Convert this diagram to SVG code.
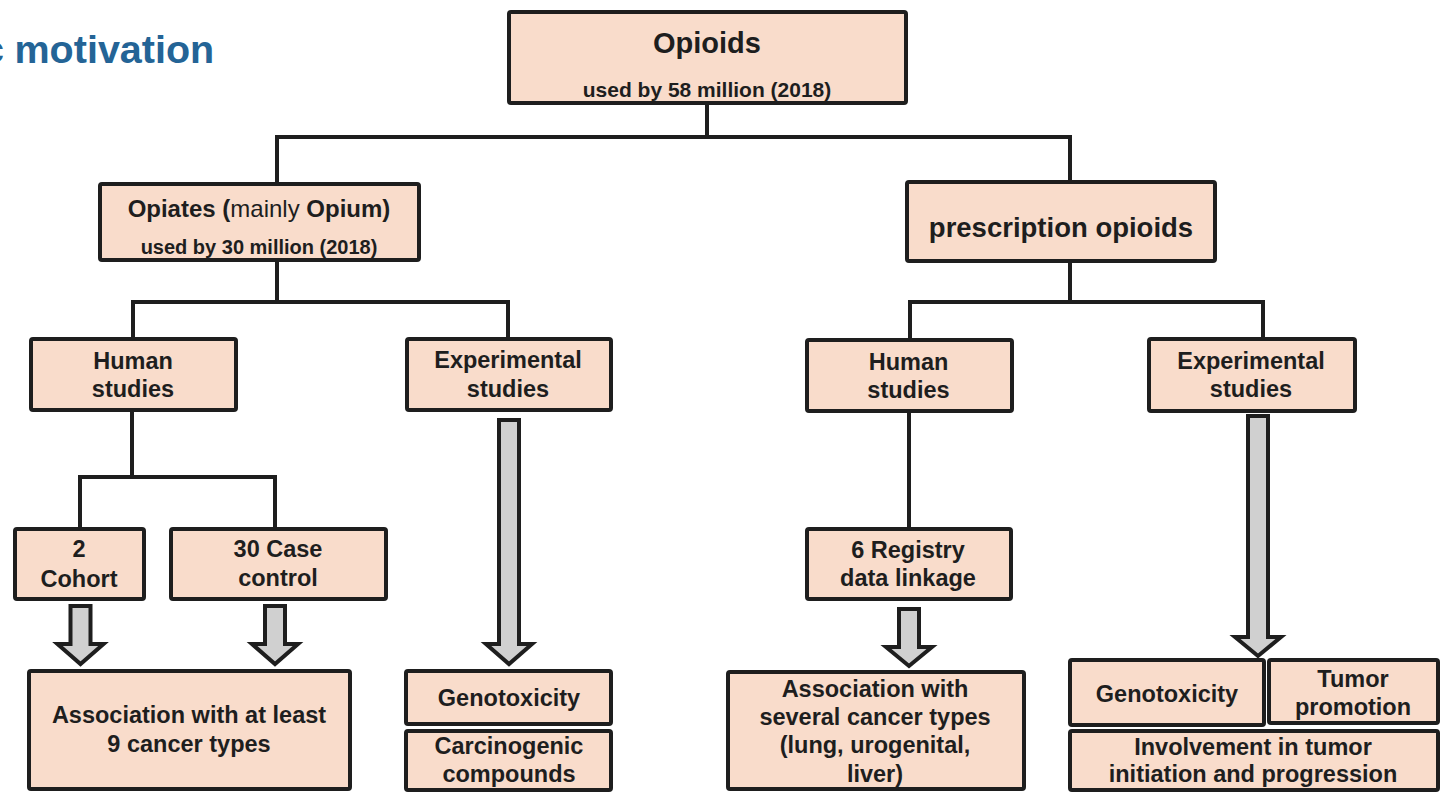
<svg xmlns="http://www.w3.org/2000/svg" width="1441" height="796" viewBox="0 0 1441 796">
<style>
.box{fill:#f9dccb;stroke:#1e1e1e;stroke-width:4}
.t{font-family:"Liberation Sans",Arial,sans-serif;font-weight:bold;font-size:23.5px;fill:#1e1e1e;text-anchor:middle}
.n{font-weight:normal}
.con{fill:none;stroke:#1e1e1e;stroke-width:4}
.arr{fill:#d0d0d0;stroke:#1e1e1e;stroke-width:4;stroke-linejoin:miter}
.title{font-family:"Liberation Sans",Arial,sans-serif;font-weight:bold;font-size:39.5px;fill:#246496}
</style>
<rect width="1441" height="796" fill="#ffffff"/>
<text class="title" x="-18" y="63">c</text>
<text class="title" x="14.5" y="63">motivation</text>

<g id="connectors">
<path class="con" d="M707 105 V137 M277 182 V137 H1070 V180"/>
<path class="con" d="M277 262 V302 M133 337 V302 H508 V337"/>
<path class="con" d="M1070 263 V302 M910 338 V302 H1263 V337"/>
<path class="con" d="M132 412 V477 M80 527 V477 H275 V527"/>
<path class="con" d="M909 413 V527"/>
<polygon class="arr" points="70.5,606 90.5,606 90.5,644 103.5,644 80.5,664 57.5,644 70.5,644"/>
<polygon class="arr" points="265,606 285,606 285,644 298,644 275,664 252,644 265,644"/>
<polygon class="arr" points="499,420 519,420 519,644 532,644 509,664 486,644 499,644"/>
<polygon class="arr" points="899,609 919,609 919,647 932,647 909,666 886,647 899,647"/>
<polygon class="arr" points="1248,416 1268,416 1268,637 1281,637 1258,656 1235,637 1248,637"/>
</g>

<g id="opioids">
<rect class="box" x="509" y="12" width="397" height="91" rx="2"/>
<text class="t" x="707" y="53" style="font-size:29px">Opioids</text>
<text class="t" x="707" y="97" style="font-size:21px">used by 58 million (2018)</text>
</g>

<g id="opiates">
<rect class="box" x="100" y="184" width="319" height="76" rx="2"/>
<text class="t" x="259" y="217" style="font-size:24px">Opiates (<tspan class="n">mainly </tspan>Opium)</text>
<text class="t" x="259" y="254" style="font-size:20px">used by 30 million (2018)</text>
</g>

<g id="prescription">
<rect class="box" x="907" y="182" width="308" height="79" rx="2"/>
<text class="t" x="1061" y="237" style="font-size:27.5px">prescription opioids</text>
</g>

<g id="human-left">
<rect class="box" x="31" y="339" width="205" height="71" rx="2"/>
<text class="t" x="133" y="369">Human</text>
<text class="t" x="133" y="397">studies</text>
</g>

<g id="experimental-left">
<rect class="box" x="407" y="339" width="204" height="71" rx="2"/>
<text class="t" x="508" y="368">Experimental</text>
<text class="t" x="508" y="397">studies</text>
</g>

<g id="human-right">
<rect class="box" x="807" y="340" width="205" height="71" rx="2"/>
<text class="t" x="908.5" y="370">Human</text>
<text class="t" x="908.5" y="398">studies</text>
</g>

<g id="experimental-right">
<rect class="box" x="1149" y="339" width="206" height="72" rx="2"/>
<text class="t" x="1251" y="369">Experimental</text>
<text class="t" x="1251" y="397">studies</text>
</g>

<g id="cohort">
<rect class="box" x="15" y="529" width="129" height="70" rx="2"/>
<text class="t" x="79" y="557">2</text>
<text class="t" x="79" y="587">Cohort</text>
</g>

<g id="case-control">
<rect class="box" x="171" y="529" width="215" height="70" rx="2"/>
<text class="t" x="278" y="557">30 Case</text>
<text class="t" x="278" y="586">control</text>
</g>

<g id="registry">
<rect class="box" x="807" y="529" width="204" height="70" rx="2"/>
<text class="t" x="908" y="558">6 Registry</text>
<text class="t" x="908" y="586">data linkage</text>
</g>

<g id="association-left">
<rect class="box" x="29" y="671" width="321" height="118" rx="2"/>
<text class="t" x="189" y="723">Association with at least</text>
<text class="t" x="189" y="752">9 cancer types</text>
</g>

<g id="genotoxicity-left">
<rect class="box" x="406" y="671" width="205" height="53" rx="2"/>
<text class="t" x="509" y="706">Genotoxicity</text>
</g>

<g id="carcinogenic">
<rect class="box" x="406" y="731" width="205" height="59" rx="2"/>
<text class="t" x="509" y="754">Carcinogenic</text>
<text class="t" x="509" y="782">compounds</text>
</g>

<g id="association-right">
<rect class="box" x="728" y="672" width="296" height="117" rx="2"/>
<text class="t" x="875" y="697">Association with</text>
<text class="t" x="875" y="725">several cancer types</text>
<text class="t" x="875" y="753">(lung, urogenital,</text>
<text class="t" x="875" y="782">liver)</text>
</g>

<g id="genotoxicity-right">
<rect class="box" x="1070" y="660" width="194" height="65" rx="2"/>
<text class="t" x="1167" y="702">Genotoxicity</text>
</g>

<g id="tumor-promotion">
<rect class="box" x="1269" y="660" width="169" height="63" rx="2"/>
<text class="t" x="1353" y="687">Tumor</text>
<text class="t" x="1353" y="715">promotion</text>
</g>

<g id="involvement">
<rect class="box" x="1070" y="731" width="368" height="59" rx="2"/>
<text class="t" x="1253" y="755">Involvement in tumor</text>
<text class="t" x="1253" y="782">initiation and progression</text>
</g>
</svg>
